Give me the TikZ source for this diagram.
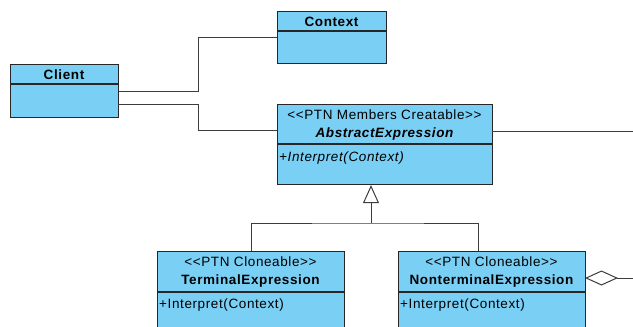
\documentclass[tikz,border=0pt]{standalone}
\usepackage{fontspec}
\setmainfont{Liberation Sans}[LetterSpace=4.5]
\usetikzlibrary{arrows.meta,calc}
\definecolor{classfill}{RGB}{122,207,245}
\definecolor{classline}{RGB}{38,38,38}
\definecolor{wirecol}{RGB}{60,60,60}

\begin{document}
\begin{tikzpicture}[x=1pt,y=-1pt,
  classbox/.style={draw=classline, fill=classfill, line width=1.1pt, inner sep=0, anchor=north west},
  divider/.style={draw=classline, line width=1.1pt},
  wire/.style={draw=wirecol, line width=1pt},
  txt/.style={font=\fontsize{13.5}{15}\selectfont, inner sep=0},
  stereo/.style={txt},
  cname/.style={txt, font=\fontsize{13.5}{15}\selectfont\bfseries},
  oper/.style={txt, anchor=west},
]
\path[use as bounding box] (0,0) rectangle (633,327);
\clip (0,0) rectangle (633,327);

% class boxes
\node[classbox, minimum width=108pt, minimum height=53pt] (client) at (10,64) {};
\draw[divider] (10,84) -- (118,84);
\node[cname] at (64,74.5) {Client};

\node[classbox, minimum width=109pt, minimum height=52pt] (context) at (277,11) {};
\draw[divider] (277,31) -- (386,31);
\node[cname] at (331.5,21.5) {Context};

\node[classbox, minimum width=215pt, minimum height=80pt] (abs) at (277,104) {};
\draw[divider] (277,144) -- (492,144);
\node[stereo] at (384.5,114.5) {<{}<PTN Members Creatable>{}>};
\node[cname, font=\fontsize{13.5}{15}\selectfont\bfseries\itshape] at (384.5,134.5) {AbstractExpression};
\node[oper, font=\fontsize{13.5}{15}\selectfont\itshape] at (279,158) {+Interpret(Context)};

\node[classbox, minimum width=187pt, minimum height=90pt] (term) at (157,251) {};
\draw[divider] (157,292) -- (344,292);
\node[stereo] at (250.5,261.5) {<{}<PTN Cloneable>{}>};
\node[cname] at (250.5,281.5) {TerminalExpression};
\node[oper] at (159,305) {+Interpret(Context)};

\node[classbox, minimum width=187pt, minimum height=90pt] (nonterm) at (398,251) {};
\draw[divider] (398,292) -- (585,292);
\node[stereo] at (491.5,261.5) {<{}<PTN Cloneable>{}>};
\node[cname] at (491.5,281.5) {NonterminalExpression};
\node[oper] at (400,305) {+Interpret(Context)};

% bends and free ends of the connectors
\coordinate (ctxbend) at (198,37);
\coordinate (ctxin) at (277,37);
\coordinate (clientlow) at (118,104);
\coordinate (absbend) at (198,130);
\coordinate (absin) at (277,130);
\coordinate (absright) at (492,131);
\coordinate (absout) at (633,131);
\coordinate (fork) at (371,223);
\coordinate (nontermin) at (478,251);
\coordinate (aggstart) at (585,278);
\coordinate (aggout) at (633,278);

% associations
\draw[wire] (client.east) -| (ctxbend) -- (ctxin);
\draw[wire] (clientlow) -| (absbend) -- (absin);
\draw[wire] (absright) -- (absout);

% generalisation
\draw[wire, -{Triangle[open, length=18pt, width=16pt, line width=1pt]}, fill=white]
  (fork) -- (fork |- abs.south);
\draw[wire] (term.north) |- (fork) -| (nontermin);

% aggregation
\draw[wire, {Diamond[open, length=33pt, width=15pt, line width=1pt]}-, fill=white]
  (aggstart) -- (aggout);
\end{tikzpicture}
\end{document}
